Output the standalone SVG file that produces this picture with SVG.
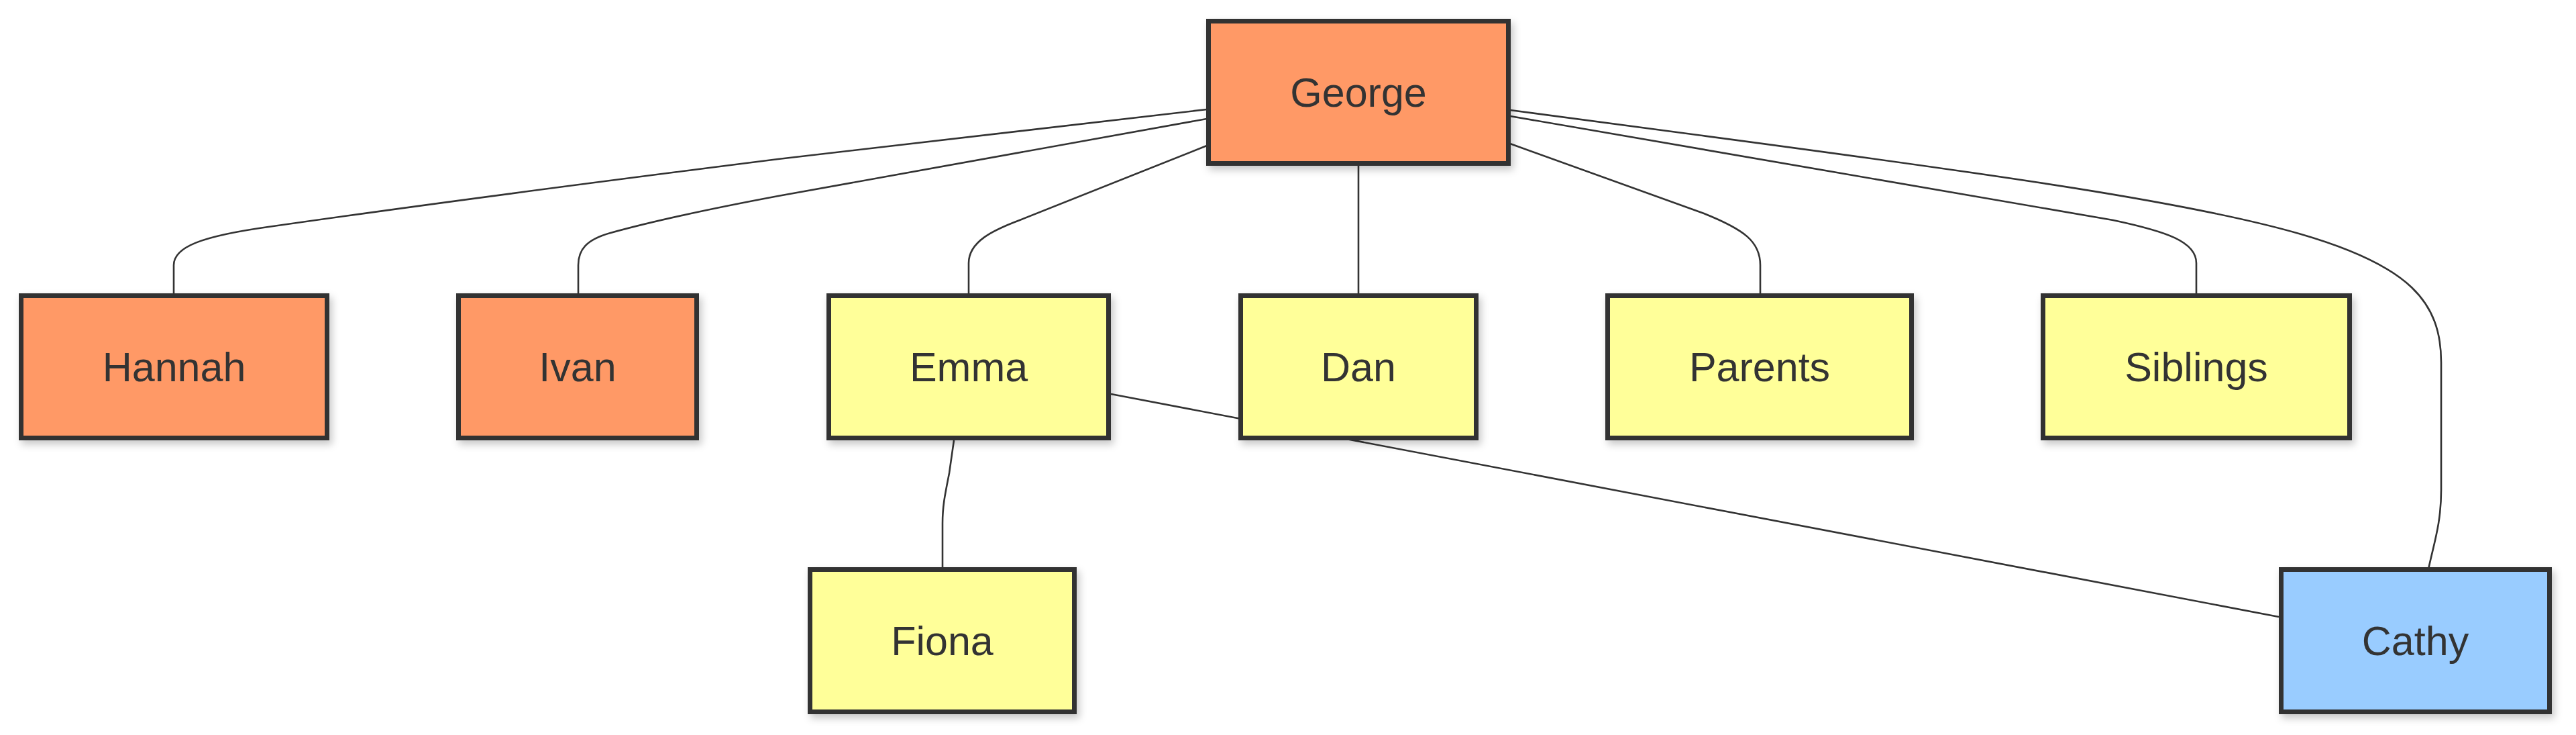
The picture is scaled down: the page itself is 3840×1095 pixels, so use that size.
<svg xmlns="http://www.w3.org/2000/svg" width="3840" height="1095" viewBox="0 0 3840 1095">
<defs>
<filter id="shadow" x="-10%" y="-10%" width="125%" height="130%">
<feDropShadow dx="4" dy="6" stdDeviation="6" flood-color="#000" flood-opacity="0.22"/>
</filter>
<style>
.node rect { stroke: #333333; stroke-width: 7; filter: url(#shadow); }
.orange rect { fill: #FF9966; }
.yellow rect { fill: #FFFF99; }
.blue rect { fill: #99CCFF; }
.node text { font-family: "Liberation Sans", Arial, sans-serif; font-size: 61px; fill: #333333; text-anchor: middle; }
.edge { fill: none; stroke: #333333; stroke-width: 2.6; }
</style>
</defs>
<rect x="0" y="0" width="3840" height="1095" fill="#ffffff"/>
<g id="connectors">
<path class="edge" d="M1799,163 L1160,237 Q700,295 400,338 C300,352 259,368 259,395 L259,437"/>
<path class="edge" d="M1799,177 L1160,292 Q1000,322 910,347 C874,357 862,372 862,395 L862,437"/>
<path class="edge" d="M1799,217 L1520,328 C1480,343 1444,360 1444,392 L1444,437"/>
<path class="edge" d="M2025,247 L2025,437"/>
<path class="edge" d="M2251,214 L2540,318 C2600,342 2624,360 2624,395 L2624,437"/>
<path class="edge" d="M2251,173 L3150,328 C3230,345 3274,360 3274,392 L3274,437"/>
<path class="edge" d="M2251,164 L2530,201 C3450,323 3639,360 3639,540 L3639,730 C3639,780 3628,810 3620,848"/>
<path class="edge" d="M1422,656 L1415,705 C1408,740 1405,755 1405,780 L1405,845"/>
<path class="edge" d="M1656,587 L3397,919"/>
</g>
<g id="node-george" class="node orange">
<rect x="1801.5" y="31.5" width="447" height="212"/>
<text x="2025" y="159">George</text>
</g>
<g id="node-hannah" class="node orange">
<rect x="31.5" y="440.5" width="456" height="212"/>
<text x="259.5" y="568">Hannah</text>
</g>
<g id="node-ivan" class="node orange">
<rect x="683.5" y="440.5" width="355" height="212"/>
<text x="861" y="568">Ivan</text>
</g>
<g id="node-emma" class="node yellow">
<rect x="1235.5" y="440.5" width="417" height="212"/>
<text x="1444" y="568">Emma</text>
</g>
<g id="node-dan" class="node yellow">
<rect x="1849.5" y="440.5" width="351" height="212"/>
<text x="2025" y="568">Dan</text>
</g>
<g id="node-parents" class="node yellow">
<rect x="2396.5" y="440.5" width="453" height="212"/>
<text x="2623" y="568">Parents</text>
</g>
<g id="node-siblings" class="node yellow">
<rect x="3045.5" y="440.5" width="457" height="212"/>
<text x="3274" y="568">Siblings</text>
</g>
<g id="node-fiona" class="node yellow">
<rect x="1207.5" y="848.5" width="394" height="212"/>
<text x="1404.5" y="976">Fiona</text>
</g>
<g id="node-cathy" class="node blue">
<rect x="3400.5" y="848.5" width="400" height="212"/>
<text x="3600.5" y="976">Cathy</text>
</g>
</svg>
